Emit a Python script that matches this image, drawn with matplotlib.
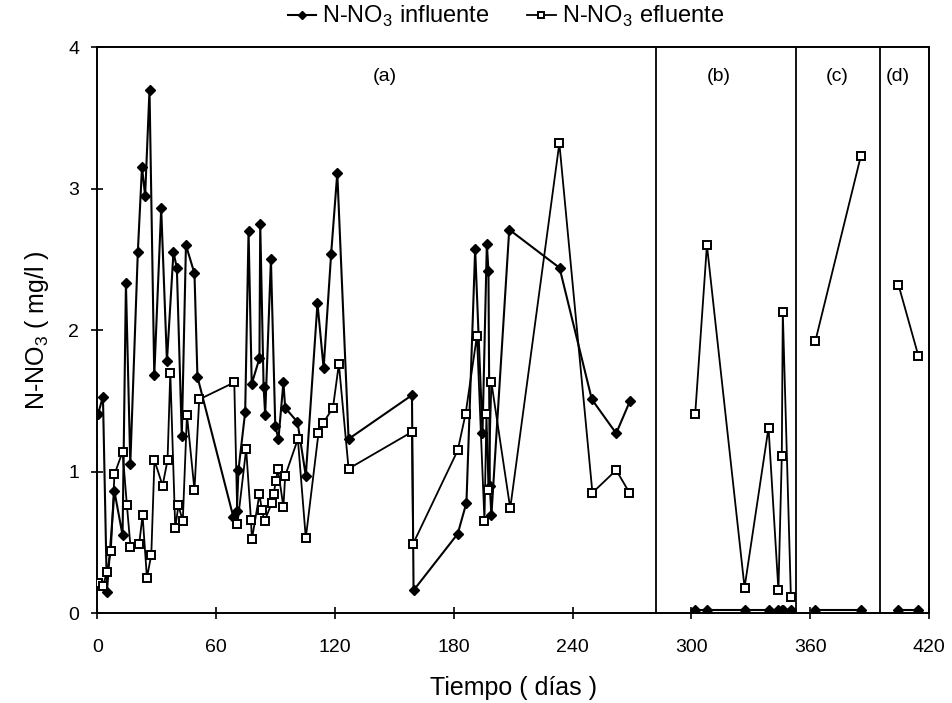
import matplotlib
matplotlib.use("Agg")
import matplotlib.pyplot as plt

plt.rcParams['font.family'] = ['Liberation Sans', 'DejaVu Sans']
plt.rcParams['mathtext.fontset'] = 'custom'
plt.rcParams['mathtext.rm'] = 'Liberation Sans'

# Period (a): influent / effluent nitrate, days 0-270
days_a_inf = [0.5, 2.9, 4.9, 8.7, 12.8, 14.5, 16.7, 20.5, 22.6, 24.2, 26.4, 28.8,
              32.3, 35.2, 38.5, 40.2, 42.7, 44.8, 49.1, 50.6, 68.7, 70.5, 71.3,
              74.7, 76.4, 78.0, 81.9, 82.3, 84.0, 84.8, 87.7, 89.9, 91.5, 94.0,
              94.9, 101.1, 105.3, 111.2, 114.3, 118.1, 121.2, 126.9, 158.9,
              159.7, 182.0, 186.4, 190.8, 194.5, 196.7, 197.5, 198.2, 199.0,
              208.0, 233.4, 249.7, 262.0, 269.0]
inf_a = [1.41, 1.53, 0.15, 0.86, 0.55, 2.33, 1.05, 2.55, 3.15, 2.95, 3.70, 1.68,
         2.86, 1.78, 2.55, 2.44, 1.25, 2.60, 2.40, 1.67, 0.68, 0.72, 1.01,
         1.42, 2.70, 1.62, 1.80, 2.75, 1.60, 1.40, 2.50, 1.32, 1.23, 1.63,
         1.45, 1.35, 0.97, 2.19, 1.73, 2.54, 3.11, 1.23, 1.54,
         0.16, 0.56, 0.78, 2.57, 1.27, 2.61, 2.42, 0.90, 0.69,
         2.71, 2.44, 1.51, 1.27, 1.50]

days_a_eff = [0.5, 2.9, 4.9, 6.9, 8.7, 12.8, 15.0, 16.8, 21.2, 22.9, 25.1, 27.3,
              28.9, 33.0, 35.5, 36.9, 39.4, 41.0, 43.2, 45.3, 49.1, 51.5, 69.2,
              70.8, 75.2, 77.6, 78.1, 81.9, 83.1, 84.5, 88.2, 89.0, 90.2, 91.2,
              94.0, 94.9, 101.3, 105.3, 111.7, 113.9, 119.0, 122.0, 126.9,
              158.9, 159.5, 182.0, 186.0, 191.7, 195.5, 196.5, 197.5, 199.0,
              208.5, 233.3, 250.0, 262.0, 268.7]
eff_a = [0.21, 0.19, 0.29, 0.44, 0.98, 1.14, 0.76, 0.47, 0.49, 0.69, 0.25, 0.41,
         1.08, 0.90, 1.08, 1.70, 0.60, 0.76, 0.65, 1.40, 0.87, 1.51, 1.63,
         0.63, 1.16, 0.66, 0.52, 0.84, 0.73, 0.65, 0.78, 0.84, 0.93, 1.02,
         0.75, 0.97, 1.23, 0.53, 1.27, 1.34, 1.45, 1.76, 1.02,
         1.28, 0.49, 1.15, 1.41, 1.96, 0.65, 1.41, 0.87, 1.63,
         0.74, 3.32, 0.85, 1.01, 0.85]

# Period (b)
days_b = [301.9, 307.8, 326.8, 338.9, 343.9, 345.6, 346.1, 350.2]
inf_b = [0.02, 0.02, 0.02, 0.02, 0.02, 0.02, 0.02, 0.02]
eff_b = [1.41, 2.60, 0.18, 1.31, 0.16, 1.11, 2.13, 0.11]

# Period (c)
days_c = [362.5, 385.5]
inf_c = [0.02, 0.02]
eff_c = [1.92, 3.23]

# Period (d)
days_d = [404.5, 414.5]
inf_d = [0.02, 0.02]
eff_d = [2.32, 1.82]

period_bounds = [282, 353, 395]
period_labels = ['(a)', '(b)', '(c)', '(d)']
period_label_x = [145, 314, 373.5, 404]

x_ticks = [0, 60, 120, 180, 240, 300, 360, 420]
y_ticks = [0, 1, 2, 3, 4]

fig = plt.figure(figsize=(9.53, 7.03), dpi=100)
ax = fig.add_axes([0.102, 0.128, 0.873, 0.805])

inf_style = dict(color='black', lw=1.5, marker='D', ms=5.5, mfc='black',
                 mec='black', zorder=3)
eff_style = dict(color='black', lw=1.3, marker='s', ms=5.5, mfc='white',
                 mec='black', mew=1.4, zorder=4)

periods = [(days_a_inf, inf_a, days_a_eff, eff_a),
           (days_b, inf_b, days_b, eff_b),
           (days_c, inf_c, days_c, eff_c),
           (days_d, inf_d, days_d, eff_d)]
for i, (di, vi, de, ve) in enumerate(periods):
    ax.plot(di, vi, label=r'N-NO$_\mathregular{3}$ influente' if i == 0 else None,
            **inf_style)
    ax.plot(de, ve, label=r'N-NO$_\mathregular{3}$ efluente' if i == 0 else None,
            **eff_style)

for b in period_bounds:
    ax.axvline(b, color='black', lw=1.3, zorder=2)

for lx, lab in zip(period_label_x, period_labels):
    ax.text(lx, 3.79, lab, ha='center', va='center', fontsize=14)

ax.set_xlim(0, 420)
ax.set_ylim(0, 4)
ax.set_xticks(x_ticks)
ax.set_yticks(y_ticks)
ax.tick_params(direction='inout', length=8, width=1.2, labelsize=14)
ax.tick_params(axis='x', pad=15)
ax.tick_params(axis='y', pad=9)
for s in ax.spines.values():
    s.set_linewidth(1.4)

ax.set_xlabel('Tiempo ( días )', fontsize=18, labelpad=14)
ax.set_ylabel(r'N-NO$_\mathregular{3}$ ( mg/l )', fontsize=18, labelpad=12)

leg_handles, leg_labels = ax.get_legend_handles_labels()
fig.legend(leg_handles, leg_labels, loc='center left',
           bbox_to_anchor=(288 / 953, 0.976), borderpad=0, borderaxespad=0,
           ncol=2, frameon=False, fontsize=17, handlelength=1.2,
           handletextpad=0.25, columnspacing=1.6, markerscale=0.7)

fig.savefig('out.png', dpi=100)
